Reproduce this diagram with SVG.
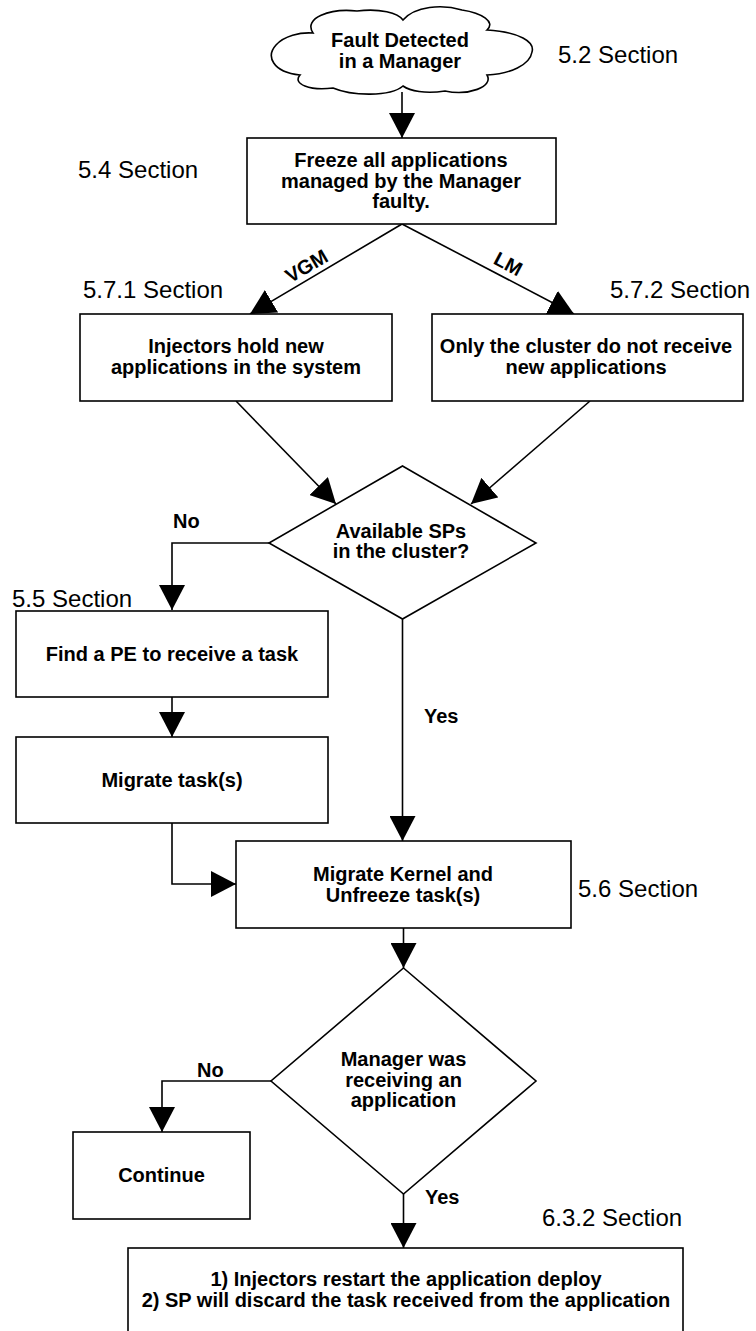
<svg xmlns="http://www.w3.org/2000/svg" width="756" height="1331" viewBox="0 0 756 1331">
  <style>
    .shape { fill: #ffffff; stroke: #000000; stroke-width: 1.6; }
    .node { font-family: "Liberation Sans", Arial, sans-serif; font-weight: bold; font-size: 20px; text-anchor: middle; fill: #000; }
    .sec { font-family: "Liberation Sans", Arial, sans-serif; font-size: 24px; fill: #000; }
    .lbl { font-family: "Liberation Sans", Arial, sans-serif; font-weight: bold; font-size: 20px; fill: #000; }
    .edge { fill: none; stroke: #000; stroke-width: 1.6; marker-end: url(#arrow); }
  </style>
  <defs>
    <marker id="arrow" markerUnits="userSpaceOnUse" markerWidth="25" markerHeight="26" refX="25" refY="13" orient="auto">
      <path d="M0,0 L25,13 L0,26 Z" fill="#000"/>
    </marker>
  </defs>
  <rect width="756" height="1331" fill="#ffffff"/>

  <!-- section references -->
  <g id="section-labels">
    <text class="sec" x="558" y="63">5.2 Section</text>
    <text class="sec" x="78" y="178">5.4 Section</text>
    <text class="sec" x="83" y="298">5.7.1 Section</text>
    <text class="sec" x="610" y="298">5.7.2 Section</text>
    <text class="sec" x="12" y="607">5.5 Section</text>
    <text class="sec" x="578" y="897">5.6 Section</text>
    <text class="sec" x="542" y="1226">6.3.2 Section</text>
  </g>

  <!-- connectors -->
  <g id="connectors">
    <path class="edge" d="M402,92 L402,138"/>
    <path class="edge" d="M402,224 L250,314"/>
    <path class="edge" d="M402,224 L574,314"/>
    <path class="edge" d="M236,401 L336,504"/>
    <path class="edge" d="M590,401 L471,504"/>
    <path class="edge" d="M269,543 L172,543 L172,610"/>
    <path class="edge" d="M172,697 L172,737"/>
    <path class="edge" d="M172,823 L172,884 L236,884"/>
    <path class="edge" d="M402.5,619 L402.5,841"/>
    <path class="edge" d="M403.5,928 L403.5,968"/>
    <path class="edge" d="M271,1081 L162,1081 L162,1132"/>
    <path class="edge" d="M403.5,1194 L403.5,1248"/>
    <text class="lbl" font-size="21" transform="translate(310,272) rotate(-30.6)" text-anchor="middle">VGM</text>
    <text class="lbl" font-size="21" transform="translate(505,270) rotate(27.6)" text-anchor="middle">LM</text>
    <text class="lbl" x="173" y="528">No</text>
    <text class="lbl" x="424" y="723">Yes</text>
    <text class="lbl" x="197" y="1077">No</text>
    <text class="lbl" x="425" y="1204">Yes</text>
  </g>

  <g id="fault-detected">
    <path class="shape" d="M313,33 C303,18 330,8 357,11 C380,8 398,13 403,20 C415,6 442,4 462,10 C482,13 496,22 487,30 C520,32 535,42 532,52 C530,65 510,74 487,75 C494,87 468,96 445,91 C425,94 410,91 403,86 C390,97 352,96 333,88 C310,91 292,84 300,75 C272,72 266,56 276,45 C284,36 300,32 313,33 Z"/>
    <text class="node" font-size="18" x="400" y="47">Fault Detected</text>
    <text class="node" font-size="18" x="400" y="68">in a Manager</text>
  </g>

  <g id="freeze">
    <rect class="shape" x="247" y="138" width="309" height="86"/>
    <text class="node" x="401" y="167">Freeze all applications</text>
    <text class="node" x="401" y="187.5">managed by the Manager</text>
    <text class="node" x="401" y="208">faulty.</text>
  </g>

  <g id="injectors-hold">
    <rect class="shape" x="80" y="314" width="312" height="87"/>
    <text class="node" x="236" y="353">Injectors hold new</text>
    <text class="node" x="236" y="374">applications in the system</text>
  </g>

  <g id="cluster-hold">
    <rect class="shape" x="432" y="314" width="311" height="87"/>
    <text class="node" x="586" y="353">Only the cluster do not receive</text>
    <text class="node" x="586" y="374">new applications</text>
  </g>

  <g id="available-sps">
    <path class="shape" d="M402.5,466 L536,543 L402.5,619 L269,543 Z"/>
    <text class="node" x="401" y="538">Available SPs</text>
    <text class="node" x="401" y="558">in the cluster?</text>
  </g>

  <g id="find-pe">
    <rect class="shape" x="16" y="611" width="312" height="86"/>
    <text class="node" x="172" y="661">Find a PE to receive a task</text>
  </g>

  <g id="migrate-tasks">
    <rect class="shape" x="16" y="737" width="312" height="86"/>
    <text class="node" x="172" y="787">Migrate task(s)</text>
  </g>

  <g id="migrate-kernel">
    <rect class="shape" x="236" y="841" width="335" height="87"/>
    <text class="node" x="403" y="881">Migrate Kernel and</text>
    <text class="node" x="403" y="902">Unfreeze task(s)</text>
  </g>

  <g id="receiving-app">
    <path class="shape" d="M403.5,968 L536,1081 L403.5,1194 L271,1081 Z"/>
    <text class="node" x="403.5" y="1066">Manager was</text>
    <text class="node" x="403.5" y="1087">receiving an</text>
    <text class="node" x="403.5" y="1107">application</text>
  </g>

  <g id="continue">
    <rect class="shape" x="73" y="1132" width="177" height="87"/>
    <text class="node" x="161.5" y="1182">Continue</text>
  </g>

  <g id="restart-deploy">
    <rect class="shape" x="128" y="1248" width="555" height="100"/>
    <text class="node" font-size="19" x="406" y="1286">1) Injectors restart the application deploy</text>
    <text class="node" font-size="19" x="406" y="1307">2) SP will discard the task received from the application</text>
  </g>
</svg>
